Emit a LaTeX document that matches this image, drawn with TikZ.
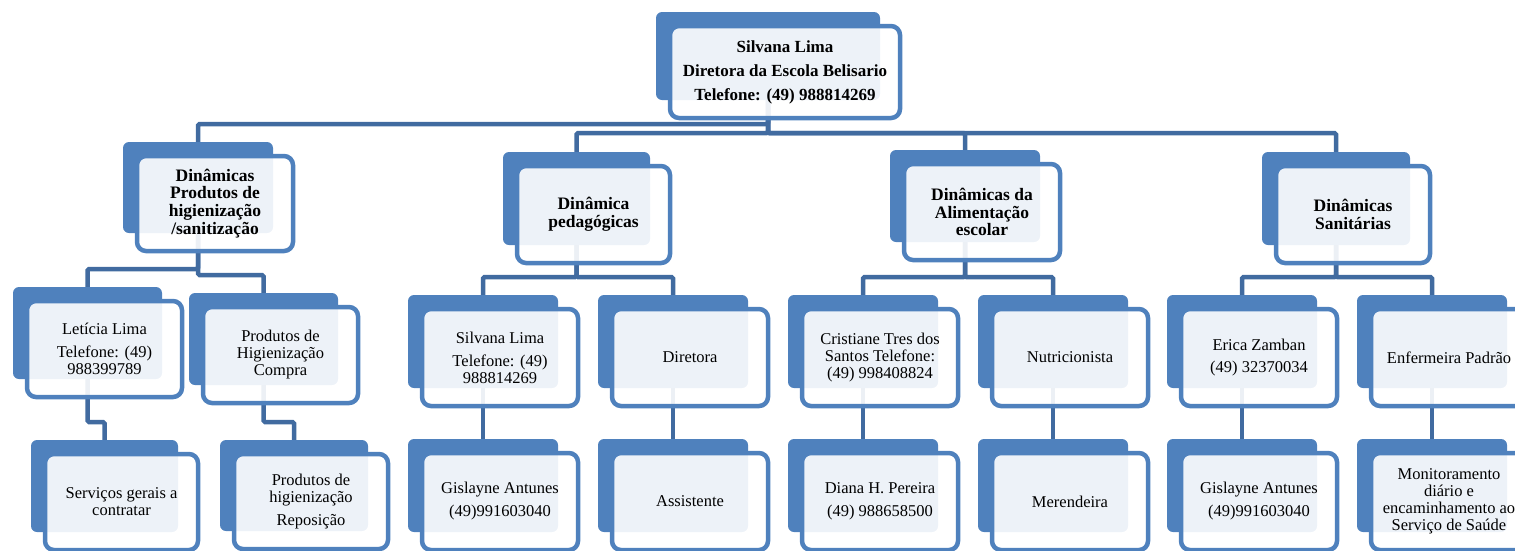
\documentclass[tikz,border=0pt]{standalone}
\usepackage{fontspec}
\setmainfont{Liberation Serif}
\definecolor{bk}{HTML}{4F81BD}
\definecolor{cn}{HTML}{416BA0}
\pgfdeclarelayer{bg}
\pgfsetlayers{bg,main}
\tikzset{
 backbox/.style={fill=bk, rounded corners=6pt, inner sep=0pt, outer sep=0pt, draw=none},
 frontbox/.style={draw=bk, line width=4.5pt, fill=white, fill opacity=0.9, text opacity=1, rounded corners=9pt, inner sep=0pt, outer sep=0pt, align=center},
 conn/.style={draw=cn, line width=4.5pt, rounded corners=1.5pt},
 t0/.style={font=\bfseries\fontsize{17}{24}\selectfont},
 t1/.style={font=\bfseries\fontsize{17.5}{17.8}\selectfont},
 t2/.style={font=\fontsize{16.5}{17}\selectfont},
}
\newcommand\orgbox[7]{%
 \pgfmathsetmacro\obw{#4-#2}%
 \pgfmathsetmacro\obh{#5-#3}%
 \pgfmathsetmacro\obx{(#2+#4)/2}%
 \pgfmathsetmacro\oby{(#3+#5)/2}%
 \pgfmathsetmacro\ofw{#4-#2+6}%
 \pgfmathsetmacro\ofh{#5-#3+4}%
 \pgfmathsetmacro\ofx{(#2+#4)/2+17}%
 \pgfmathsetmacro\ofy{(#3+#5)/2+16}%
 \node[backbox, minimum width=\obw pt, minimum height=\obh pt] (#1-b) at (\obx,\oby) {};
 \node[frontbox, #6, minimum width=\ofw pt, minimum height=\ofh pt] (#1) at (\ofx,\ofy) {#7};
}
\begin{document}
\begin{tikzpicture}[x=1pt,y=-1pt]
\useasboundingbox (0,0) rectangle (1515,550);
\clip (0,0) rectangle (1515,550);
% top
\orgbox{top}{656}{12}{880}{100}{t0}{Silvana Lima\\Diretora da Escola Belisario\\Telefone: (49) 988814269}
% level 1
\orgbox{A}{123}{142}{273}{233}{t1}{Dinâmicas\\Produtos de\\higienização\\/sanitização}
\orgbox{B}{503}{152}{650}{245}{t1}{Dinâmica\\pedagógicas}
\orgbox{C}{890}{150}{1040}{242}{t1}{Dinâmicas da\\Alimentação\\escolar}
\orgbox{D}{1262}{152}{1410}{245}{t1}{Dinâmicas\\Sanitárias}
% level 2
\orgbox{let}{13}{287}{162}{379}{t2}{Letícia Lima\\[6pt]Telefone: (49)\\988399789}
\orgbox{comp}{189}{293}{338}{385}{t2}{Produtos de\\Higienização\\Compra}
\orgbox{sil}{408}{295}{558}{388}{t2}{Silvana Lima\\[6pt]Telefone: (49)\\988814269}
\orgbox{dir}{598}{295}{748}{388}{t2}{Diretora}
\orgbox{cri}{788}{295}{938}{388}{t2}{Cristiane Tres dos\\Santos Telefone:\\(49) 998408824}
\orgbox{nut}{978}{295}{1128}{388}{t2}{Nutricionista}
\orgbox{eri}{1167}{295}{1317}{388}{t2}{Erica Zamban\\[5pt](49) 32370034}
\orgbox{enf}{1357}{295}{1507}{388}{t2}{Enfermeira Padrão}
% level 3
\orgbox{ser}{31}{440}{178}{532}{t2}{Serviços gerais a\\contratar}
\orgbox{rep}{220}{440}{368}{531}{t2}{Produtos de\\higienização\\[6pt]Reposição}
\orgbox{gis}{408}{439}{558}{532}{t2}{Gislayne Antunes\\[6pt](49)991603040}
\orgbox{ass}{598}{439}{748}{532}{t2}{Assistente}
\orgbox{dia}{788}{439}{938}{532}{t2}{Diana H. Pereira\\[6pt](49) 988658500}
\orgbox{mer}{978}{439}{1128}{532}{t2}{Merendeira}
\orgbox{gisb}{1167}{439}{1317}{532}{t2}{Gislayne Antunes\\[6pt](49)991603040}
\orgbox{mon}{1357}{439}{1507}{532}{t2}{Monitoramento\\diário e\\encaminhamento ao\\Serviço de Saúde}
\begin{pgfonlayer}{bg}
\draw[conn] (top-b.south) -- ++(0,24) -| (A-b.north);
\draw[conn] (top-b.south) -- ++(0,33) -| (B-b.north);
\draw[conn] (top-b.south) -- ++(0,33) -| (C-b.north);
\draw[conn] (top-b.south) -- ++(0,33) -| (D-b.north);
\draw[conn] (A-b.south) -- ++(0,36) -| (let-b.north);
\draw[conn] (A-b.south) -- ++(0,42) -| (comp-b.north);
\draw[conn] (B-b.south) -- ++(0,32) -| (sil-b.north);
\draw[conn] (B-b.south) -- ++(0,32) -| (dir-b.north);
\draw[conn] (C-b.south) -- ++(0,35) -| (cri-b.north);
\draw[conn] (C-b.south) -- ++(0,35) -| (nut-b.north);
\draw[conn] (D-b.south) -- ++(0,32) -| (eri-b.north);
\draw[conn] (D-b.south) -- ++(0,32) -| (enf-b.north);
\draw[conn] (let-b.south) -- ++(0,43) -| (ser-b.north);
\draw[conn] (comp-b.south) -- ++(0,37) -| (rep-b.north);
\draw[conn] (sil-b.south) -- (gis-b.north);
\draw[conn] (dir-b.south) -- (ass-b.north);
\draw[conn] (cri-b.south) -- (dia-b.north);
\draw[conn] (nut-b.south) -- (mer-b.north);
\draw[conn] (eri-b.south) -- (gisb-b.north);
\draw[conn] (enf-b.south) -- (mon-b.north);
\end{pgfonlayer}
\end{tikzpicture}
\end{document}
